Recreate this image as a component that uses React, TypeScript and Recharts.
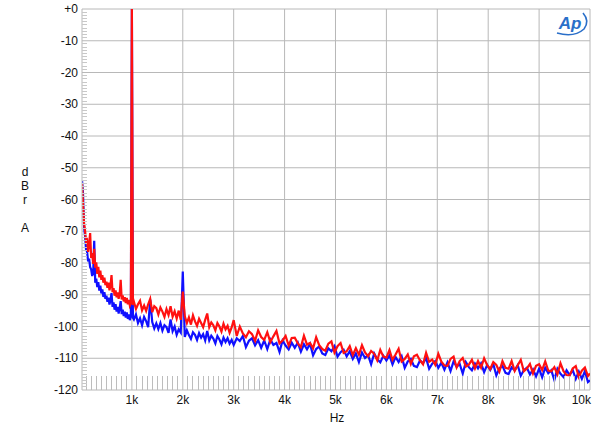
import { LineChart, Line, XAxis, YAxis, CartesianGrid } from "recharts";

// FFT spectrum, 1kHz tone, dBrA vs Hz (two channels)

// ─── Frequencies (Hz) ─────────────────────────────────────────────────────────
const freqLow = [
  20, 40, 60, 80, 100, 120, 140, 160, 180, 200, 220, 240,
  260, 280, 300, 320, 340, 360, 380, 400, 420, 440, 460, 480,
  500, 520, 540, 560, 580, 600, 620, 640, 660, 680, 700, 720,
  740, 760, 780, 800, 820, 840, 860, 880, 900, 920, 940, 960,
];
const freqTone = [980, 1000, 1020];
const freqMid = [
  1040, 1080, 1120, 1160, 1200, 1240, 1280, 1320, 1360, 1400, 1440, 1480,
  1520, 1560, 1600, 1640, 1680, 1720, 1760, 1800, 1840, 1880, 1920, 1960,
  2000, 2040, 2080, 2120, 2160, 2200, 2240, 2280, 2320, 2360, 2400, 2440,
  2480, 2520, 2560, 2600, 2640, 2680, 2720, 2760, 2800, 2840, 2880, 2920,
  2960,
];
const freqHigh = [
  3000, 3060, 3120, 3180, 3240, 3300, 3360, 3420, 3480, 3540,
  3600, 3660, 3720, 3780, 3840, 3900, 3960, 4020, 4080, 4140,
  4200, 4260, 4320, 4380, 4440, 4500, 4560, 4620, 4680, 4740,
  4800, 4860, 4920, 4980, 5040, 5100, 5160, 5220, 5280, 5340,
  5400, 5460, 5520, 5580, 5640, 5700, 5760, 5820, 5880, 5940,
  6000, 6060, 6120, 6180, 6240, 6300, 6360, 6420, 6480, 6540,
  6600, 6660, 6720, 6780, 6840, 6900, 6960, 7020, 7080, 7140,
  7200, 7260, 7320, 7380, 7440, 7500, 7560, 7620, 7680, 7740,
  7800, 7860, 7920, 7980, 8040, 8100, 8160, 8220, 8280, 8340,
  8400, 8460, 8520, 8580, 8640, 8700, 8760, 8820, 8880, 8940,
  9000, 9060, 9120, 9180, 9240, 9300, 9360, 9420, 9480, 9540,
  9600, 9660, 9720, 9780, 9840, 9900, 9960, 10000,
];

// ─── Red channel (dBrA) ───────────────────────────────────────────────────────
const redLow = [
  -55.0, -61.5, -67.5, -69.8, -73.2, -72.8, -76.5, -74.0, -70.6, -78.4, -76.9, -80.3,
  -75.5, -81.5, -79.8, -83.4, -81.2, -84.5, -82.4, -85.3, -83.8, -86.2, -84.6, -87.0,
  -85.9, -87.8, -86.2, -88.6, -87.0, -83.8, -89.2, -87.9, -90.3, -88.6, -90.8, -89.3,
  -91.3, -89.8, -85.3, -91.5, -90.2, -92.1, -90.8, -92.6, -91.0, -93.0, -91.6, -93.4,
];
const redTone = [-92.6, 0, -93.2];
const redMid = [
  -92.2, -94.5, -93.0, -91.9, -94.9, -93.4, -95.1, -93.0, -91.3, -95.5, -93.6, -94.2,
  -96.2, -94.0, -95.3, -97.0, -94.5, -96.4, -93.6, -96.9, -95.2, -97.5, -95.0, -97.9,
  -89.0, -96.8, -98.9, -97.1, -99.4, -96.5, -98.4, -99.8, -97.6, -98.9, -100.2, -97.9,
  -95.9, -100.2, -98.7, -99.6, -101.2, -98.9, -100.0, -101.6, -99.1, -100.9, -99.8, -102.0,
  -100.3,
];
const redHigh = [
  -98.0, -103.0, -100.0, -102.2, -103.4, -101.5, -102.4, -104.5, -101.2, -103.3,
  -104.2, -101.8, -104.9, -103.1, -101.4, -105.3, -104.4, -103.0, -106.0, -103.6,
  -103.5, -105.3, -106.5, -102.9, -105.7, -105.2, -106.9, -103.4, -105.9, -107.1,
  -107.6, -105.4, -104.7, -108.2, -106.2, -105.2, -108.3, -107.8, -106.2, -109.0,
  -106.8, -108.9, -105.9, -108.2, -109.4, -107.7, -108.6, -110.7, -107.4, -109.5,
  -109.8, -107.4, -110.5, -108.8, -107.0, -111.0, -110.2, -108.8, -111.8, -109.4,
  -108.9, -110.7, -111.9, -108.3, -111.1, -110.4, -112.1, -108.6, -111.1, -112.3,
  -112.4, -110.2, -109.5, -112.9, -110.9, -109.9, -112.6, -112.0, -110.5, -113.2,
  -110.9, -113.0, -110.0, -112.2, -113.4, -111.2, -112.1, -114.2, -110.9, -113.0,
  -113.3, -110.9, -114.0, -112.2, -110.5, -114.1, -113.2, -111.8, -114.8, -112.4,
  -111.9, -113.7, -111.0, -113.9, -114.1, -112.8, -115.1, -111.6, -114.1, -115.3,
  -115.4, -113.2, -112.5, -115.9, -113.9, -112.9, -115.6, -114.8,
];

// ─── Blue channel (dBrA) ──────────────────────────────────────────────────────
const blueLow = [
  -54.0, -58.2, -68.5, -71.5, -75.8, -76.4, -79.5, -78.6, -81.3, -82.0, -84.1, -83.0,
  -73.0, -86.2, -84.9, -87.6, -86.0, -88.7, -87.1, -89.6, -88.3, -90.7, -89.2, -91.3,
  -90.3, -92.2, -90.9, -93.1, -91.6, -89.5, -93.8, -92.4, -94.7, -93.0, -95.3, -93.8,
  -95.9, -94.2, -92.0, -96.1, -94.7, -96.7, -95.3, -97.2, -95.6, -97.6, -96.2, -98.0,
];
const blueTone = [-96.8, 0, -97.2];
const blueMid = [
  -97.8, -96.2, -98.9, -97.4, -99.6, -97.0, -98.3, -100.2, -91.5, -98.6, -100.6, -99.0,
  -100.8, -98.9, -101.3, -99.6, -100.2, -102.0, -97.8, -101.5, -100.0, -102.6, -100.9, -101.9,
  -82.7, -103.3, -101.2, -102.7, -103.9, -101.8, -102.6, -104.2, -102.1, -103.5, -102.4, -104.4,
  -101.4, -104.4, -102.9, -103.8, -105.3, -103.0, -104.1, -105.6, -103.5, -104.9, -103.7, -105.4,
  -104.2,
];
const blueHigh = [
  -105.8, -103.7, -104.6, -103.0, -106.5, -104.5, -103.7, -105.9, -104.3, -106.7,
  -104.4, -107.1, -104.1, -105.8, -105.2, -108.0, -104.4, -106.0, -107.2, -105.1,
  -106.7, -105.1, -107.9, -105.6, -107.2, -105.5, -109.1, -107.1, -106.3, -108.5,
  -109.0, -106.9, -107.8, -106.2, -109.5, -108.1, -107.3, -109.4, -107.8, -110.2,
  -108.5, -111.2, -108.2, -109.9, -109.0, -111.9, -108.5, -110.3, -111.3, -109.2,
  -110.7, -109.1, -111.9, -109.6, -111.2, -109.4, -113.0, -111.0, -110.2, -112.4,
  -112.8, -110.7, -111.6, -110.0, -113.3, -111.7, -110.9, -113.0, -111.4, -113.6,
  -111.3, -114.0, -111.0, -112.7, -111.8, -114.8, -111.2, -112.8, -113.8, -111.7,
  -113.2, -111.6, -114.4, -112.1, -113.7, -111.8, -115.4, -113.2, -112.4, -114.6,
  -115.0, -112.9, -113.8, -112.2, -115.5, -113.8, -113.0, -115.1, -113.5, -115.7,
  -113.3, -116.0, -113.0, -114.7, -113.8, -116.9, -113.3, -114.9, -115.9, -113.8,
  -115.3, -113.7, -116.5, -114.2, -116.5, -114.1, -117.5, -117.0,
];

// ─── Axis ticks ───────────────────────────────────────────────────────────────
const xMajor = [1000, 2000, 3000, 4000, 5000, 6000, 7000, 8000, 9000, 10000];
const yMajor = [-120, -110, -100, -90, -80, -70, -60, -50, -40, -30, -20, -10, 0];
// minor ticks: every 100 Hz and every 1 dB
const xTicks = Array.from({ length: 100 }, (_, i) => (i + 1) * 100);
const yTicks = Array.from({ length: 121 }, (_, i) => -120 + i);

const freqs = [...freqLow, ...freqTone, ...freqMid, ...freqHigh];
const red = [...redLow, ...redTone, ...redMid, ...redHigh];
const blue = [...blueLow, ...blueTone, ...blueMid, ...blueHigh];
const data = freqs.map((f, i) => ({ f, red: red[i], blue: blue[i] }));

const FONT = "'Liberation Sans', Arial, sans-serif";
const GRID = "#b8b8b8";
const PLOT_LEFT = 82;
const PLOT_BOTTOM = 390;

const XTick = ({ x, payload }: any) => {
  const cx = payload.coordinate ?? x;
  const v = payload.value;
  const major = v % 1000 === 0;
  const last = v === 10000;
  return (
    <g>
      {!major && (
        <line x1={cx} x2={cx} y1={PLOT_BOTTOM - 14} y2={PLOT_BOTTOM}
          stroke="#bdbdbd" strokeWidth={1} shapeRendering="crispEdges" />
      )}
      {major && (
        <text x={last ? cx + 1 : cx} y={404} textAnchor={last ? "end" : "middle"}
          fontSize={12} fontFamily={FONT} fill="#111">
          {v / 1000}k
        </text>
      )}
    </g>
  );
};

const YTick = ({ y, payload }: any) => {
  const cy = payload.coordinate ?? y;
  const v = payload.value;
  const major = v % 10 === 0;
  return (
    <g>
      {!major && (
        <line x1={PLOT_LEFT} x2={PLOT_LEFT + 5} y1={cy} y2={cy}
          stroke="#c8c8c8" strokeWidth={1} shapeRendering="crispEdges" />
      )}
      {major && (
        <text x={78} y={cy + 4} textAnchor="end" fontSize={12} fontFamily={FONT} fill="#111">
          {v === 0 ? "+0" : v}
        </text>
      )}
    </g>
  );
};

export default function App() {
  return (
    <div style={{ position: "absolute", left: 0, top: 0, width: 600, height: 429, background: "#fff" }}>
      <LineChart width={600} height={429} data={data}
        margin={{ top: 9, right: 10, bottom: 0, left: 0 }}>
        <CartesianGrid stroke={GRID} strokeWidth={1}
          verticalValues={xMajor} horizontalValues={yMajor} />
        <XAxis dataKey="f" type="number" domain={[20, 10000]} ticks={xTicks}
          allowDataOverflow height={39} interval={0} tickLine={false} axisLine={false}
          tick={<XTick />} />
        <YAxis type="number" domain={[-120, 0]} ticks={yTicks} width={82} interval={0}
          allowDataOverflow tickLine={false} axisLine={{ stroke: GRID }} tick={<YTick />} />
        <Line dataKey="blue" stroke="#1010ff" strokeWidth={2.2} dot={false}
          type="linear" isAnimationActive={false} />
        <Line dataKey="red" stroke="#ff1010" strokeWidth={2.2} dot={false}
          type="linear" isAnimationActive={false} />
      </LineChart>

      <svg width={600} height={429} style={{ position: "absolute", left: 0, top: 0, pointerEvents: "none" }}>
        <g fontFamily={FONT} fontSize={12} fill="#111" textAnchor="middle">
          <text x={25} y={176}>d</text>
          <text x={25} y={190}>B</text>
          <text x={25} y={204}>r</text>
          <text x={25} y={232}>A</text>
          <text x={337} y={422}>Hz</text>
        </g>
        {/* Ap logo */}
        <g fill="none" stroke="#2a6fc9" strokeWidth={1.6}>
          <path d="M557,33 Q574,38 584,29 Q590,21 583,13" />
        </g>
        <text x={570} y={29} textAnchor="middle" fontFamily={FONT} fontSize={17}
          fontStyle="italic" fontWeight="bold" fill="#2a6fc9">Ap</text>
      </svg>
    </div>
  );
}
